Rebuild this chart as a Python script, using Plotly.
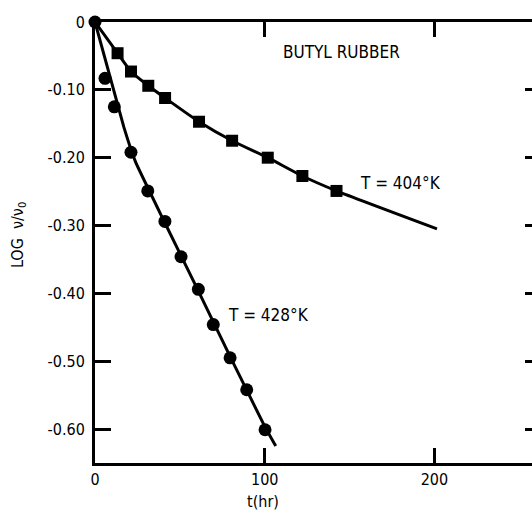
import plotly.graph_objects as go

# Data (t in hours, LOG nu/nu0)
t_404 = [13.3, 21.2, 31.4, 41.3, 61.3, 80.8, 101.8, 122.2, 142.3]
y_404 = [-0.046, -0.073, -0.094, -0.112, -0.147, -0.175, -0.200, -0.227, -0.249]

t_428 = [0, 5.9, 11.4, 21.2, 31.1, 41.2, 50.7, 60.9, 69.7, 79.6, 89.4, 100.2]
y_428 = [0, -0.083, -0.125, -0.192, -0.249, -0.294, -0.346, -0.394, -0.446, -0.495, -0.542, -0.601]

# Fitted curves as drawn in the reference
fit404_t = [0, 13.3, 21.2, 31.4, 41.3, 61.3, 80.8, 101.8, 122.2, 142.3, 201.5]
fit404_y = [0, -0.046, -0.073, -0.094, -0.112, -0.147, -0.175, -0.200, -0.227, -0.249, -0.305]
fit428_t = [0, 17, 24, 40, 60, 80, 100, 106.5]
fit428_y = [0, -0.155, -0.207, -0.29, -0.392, -0.495, -0.596, -0.625]

y_ticks = [0, -0.1, -0.2, -0.3, -0.4, -0.5, -0.6]
y_ticktext = ["0", "-0.10", "-0.20", "-0.30", "-0.40", "-0.50", "-0.60"]
x_ticks = [0, 100, 200]
x_ticktext = ["0", "100", "200"]

FONT = "DejaVu Sans Condensed, Liberation Sans Narrow, DejaVu Sans, Liberation Sans"
font = dict(family=FONT, size=16, color="black")

fig = go.Figure()
fig.add_trace(go.Scatter(x=fit404_t, y=fit404_y, mode="lines",
                         line=dict(color="black", width=3, shape="spline", smoothing=0.6),
                         hoverinfo="skip", showlegend=False))
fig.add_trace(go.Scatter(x=fit428_t, y=fit428_y, mode="lines",
                         line=dict(color="black", width=3, shape="spline", smoothing=0.3),
                         hoverinfo="skip", showlegend=False))
fig.add_trace(go.Scatter(x=t_404, y=y_404, mode="markers",
                         marker=dict(symbol="square", size=12, color="black"),
                         showlegend=False, cliponaxis=False))
fig.add_trace(go.Scatter(x=t_428, y=y_428, mode="markers",
                         marker=dict(symbol="circle", size=13, color="black"),
                         showlegend=False, cliponaxis=False))
# invisible trace to carry the right-hand tick axis
fig.add_trace(go.Scatter(x=[], y=[], yaxis="y2", showlegend=False))

fig.update_layout(
    width=532, height=513,
    margin=dict(l=95, r=0, t=22, b=50),
    paper_bgcolor="white", plot_bgcolor="white",
    font=font,
    xaxis=dict(range=[0, 257.5], tickvals=x_ticks, ticktext=x_ticktext,
               ticks="inside", ticklen=15, tickwidth=2.5, tickcolor="black",
               showline=True, linecolor="black", linewidth=3, mirror="ticks",
               showgrid=False, zeroline=False, tickfont=font),
    yaxis=dict(range=[-0.65, 0], tickvals=y_ticks, ticktext=y_ticktext,
               ticks="inside", ticklen=16, tickwidth=2.5, tickcolor="black",
               showline=True, linecolor="black", linewidth=3, mirror=False,
               showgrid=False, zeroline=False, tickfont=font, ticklabelstandoff=4),
    yaxis2=dict(range=[-0.65, 0], overlaying="y", side="right",
                tickvals=y_ticks[1:], ticks="inside", ticklen=7, tickwidth=2.5,
                tickcolor="black", showticklabels=False, showline=False,
                showgrid=False, zeroline=False),
    annotations=[
        dict(x=145, y=-0.0442, xref="x", yref="y", text="BUTYL RUBBER",
             xanchor="center", yanchor="middle",
             showarrow=False, font=dict(family=FONT, size=17, color="black")),
        dict(x=180, y=-0.2375, xref="x", yref="y", text="T = 404°K",
             xanchor="center", yanchor="middle",
             showarrow=False, font=dict(family=FONT, size=17, color="black")),
        dict(x=102, y=-0.432, xref="x", yref="y", text="T = 428°K",
             xanchor="center", yanchor="middle",
             showarrow=False, font=dict(family=FONT, size=17, color="black")),
        dict(x=-0.176, y=0.517, xref="paper", yref="paper", text="LOG  ν/ν<sub>0</sub>",
             xanchor="center", yanchor="middle",
             textangle=-90, showarrow=False, font=dict(family=FONT, size=16, color="black")),
        dict(x=0.384, y=-0.088, xref="paper", yref="paper", text="t(hr)",
             xanchor="center", yanchor="middle",
             showarrow=False, font=dict(family=FONT, size=16, color="black")),
    ],
)

fig.write_html("out.html")
